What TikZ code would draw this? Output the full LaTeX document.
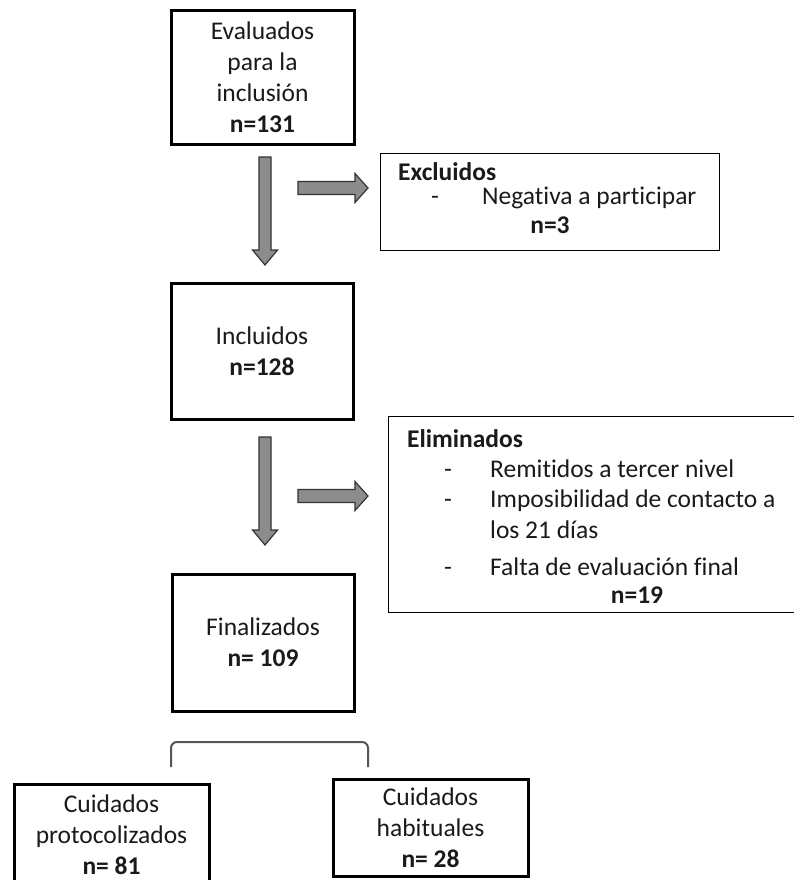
\documentclass[tikz,border=0pt]{standalone}
\usepackage{fontspec}
\setmainfont{Carlito}[Ligatures={TeX,NoCommon}]
\definecolor{txt}{HTML}{1A1A1A}
\definecolor{arrowgray}{HTML}{8C8C8C}
\definecolor{arrowedge}{HTML}{333333}
\definecolor{brk}{HTML}{555555}
\begin{document}
\begin{tikzpicture}[x=1pt,y=-1pt,
  mainbox/.style={draw=black, line width=3pt, inner sep=0pt, align=center,
    font=\fontsize{25.5}{31}\selectfont, text=txt},
  thinbox/.style={draw=black, line width=1.7pt, inner sep=0pt},
  lbl/.style={anchor=base west, inner sep=0pt, font=\fontsize{25.5}{31}\selectfont, text=txt},
  clbl/.style={anchor=base, inner sep=0pt, font=\fontsize{25.5}{31}\selectfont\bfseries, text=txt},
  blockarrow/.style={fill=arrowgray, draw=arrowedge, line width=1.2pt, line join=miter},
  bracketline/.style={draw=brk, line width=2pt, rounded corners=6pt}]
\useasboundingbox (0,0) rectangle (793,880);
\fill[white] (0,0) rectangle (793,880);

% main boxes
\node[mainbox, minimum width=183pt, minimum height=133pt] (eval) at (262.5,77.5)
  {Evaluados\\para la\\inclusión\\\textbf{n=131}};
\node[mainbox, minimum width=182pt, minimum height=136pt] (incl) at (262,351)
  {Incluidos\\\textbf{n=128}};
\node[mainbox, minimum width=182pt, minimum height=137pt] (fin) at (263,642.5)
  {Finalizados\\\textbf{n= 109}};
\node[mainbox, minimum width=195pt, minimum height=101pt] (prot) at (111.5,834.5)
  {Cuidados\\protocolizados\\\textbf{n= 81}};
\node[mainbox, minimum width=195pt, minimum height=97pt] (hab) at (430.5,827.5)
  {Cuidados\\habituales\\\textbf{n= 28}};

% excluded box
\node[thinbox, minimum width=339pt, minimum height=97pt] (excl) at (550,202) {};
\node[lbl, font=\fontsize{25.5}{31}\selectfont\bfseries] (exh) at (398,180) {Excluidos};
\node[lbl] (exd) at (431,204) {-};
\node[lbl] (ext) at (482,204) {Negativa a participar};
\node[clbl] (exn) at (550,233) {n=3};

% eliminated box
\node[thinbox, minimum width=421pt, minimum height=196pt] (elim) at (599,514.5) {};
\node[lbl, font=\fontsize{25.5}{31}\selectfont\bfseries] (elh) at (407,447) {Eliminados};
\node[lbl] (eld1) at (444,477) {-};
\node[lbl] (elt1) at (490,477) {Remitidos a tercer nivel};
\node[lbl] (eld2) at (444,507) {-};
\node[lbl] (elt2) at (490,507) {Imposibilidad de contacto a};
\node[lbl] (elt3) at (490,538) {los 21 días};
\node[lbl] (eld4) at (444,575) {-};
\node[lbl] (elt4) at (490,575) {Falta de evaluación final};
\node[clbl] (eln) at (637,603) {n=19};

% block arrows
\draw[blockarrow] (259,157) -- (271,157) -- (271,250) -- (277.5,250) -- (265,265)
  -- (252.5,250) -- (259,250) -- cycle;
\draw[blockarrow] (259,437) -- (271,437) -- (271,530) -- (277.5,530) -- (265,545)
  -- (252.5,530) -- (259,530) -- cycle;
\draw[blockarrow] (298,181.5) -- (355,181.5) -- (355,173.5) -- (368,188) -- (355,202.5)
  -- (355,194.5) -- (298,194.5) -- cycle;
\draw[blockarrow] (298,489.5) -- (355,489.5) -- (355,481.5) -- (368,496) -- (355,510.5)
  -- (355,502.5) -- (298,502.5) -- cycle;

% bracket
\draw[bracketline] (171,767) -- (171,742) -- (368,742) -- (368,767);
\end{tikzpicture}
\end{document}
